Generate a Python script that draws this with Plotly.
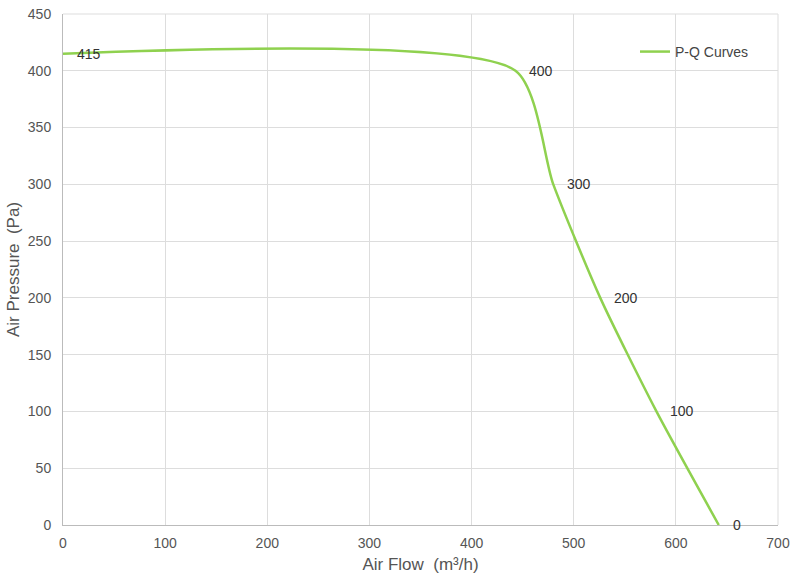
import plotly.graph_objects as go

# P-Q curve points (air flow m³/h, air pressure Pa)
air_flow = [0, 443, 480, 526, 581, 642]
air_pressure = [415, 400, 300, 200, 100, 0]
point_labels = ["415", "400", "300", "200", "100", "0"]

x_ticks = [0, 100, 200, 300, 400, 500, 600, 700]
y_ticks = [0, 50, 100, 150, 200, 250, 300, 350, 400, 450]

fig = go.Figure()
fig.add_trace(go.Scatter(
    x=air_flow,
    y=air_pressure,
    mode="lines",
    name="P-Q Curves",
    line=dict(color="#8fd14f", width=2.5, shape="spline", smoothing=0.65),
))

# value labels to the right of each point
for xv, yv, t in zip(air_flow, air_pressure, point_labels):
    fig.add_annotation(x=xv, y=yv, text=t, showarrow=False,
                       xanchor="left", yanchor="middle", xshift=12,
                       font=dict(size=14, color="#333333"))

fig.update_layout(
    width=800, height=577,
    margin=dict(l=63, r=22, t=14, b=52),
    paper_bgcolor="white",
    plot_bgcolor="white",
    font=dict(family="Liberation Sans, Arial, sans-serif", size=14, color="#555555"),
    showlegend=True,
    legend=dict(x=0.80, y=0.957, xanchor="left", yanchor="top",
                bgcolor="rgba(0,0,0,0)", borderwidth=0,
                font=dict(size=14, color="#444444")),
)
fig.update_xaxes(
    range=[0, 700], tickvals=x_ticks, automargin=False,
    title=dict(text="Air Flow  (m³/h)", standoff=8),
    showgrid=True, gridcolor="#dddddd", gridwidth=1,
    showline=True, linecolor="#bbbbbb", linewidth=1,
    zeroline=False, ticks="", ticklabelstandoff=5,
)
fig.update_yaxes(
    range=[0, 450], tickvals=y_ticks, automargin=False,
    title=dict(text="Air Pressure  (Pa)", standoff=3),
    showgrid=True, gridcolor="#dddddd", gridwidth=1,
    showline=True, linecolor="#bbbbbb", linewidth=1,
    zeroline=False, ticks="", ticklabelstandoff=8,
)
# close the frame at the right and top edges
fig.add_shape(type="line", xref="paper", yref="paper", x0=1, x1=1, y0=0, y1=1,
              line=dict(color="#dddddd", width=1), layer="below")
fig.add_shape(type="line", xref="paper", yref="paper", x0=0, x1=1, y0=1, y1=1,
              line=dict(color="#dddddd", width=1), layer="below")
# white legend panel that hides the grid behind it
fig.add_shape(type="rect", xref="paper", yref="paper", x0=0.783, x1=0.991,
              y0=0.859, y1=0.996, fillcolor="white", line=dict(width=0),
              layer="between")

fig.write_html("out.html", config={"displayModeBar": False},
               post_script="document.body.style.margin='0px';")
